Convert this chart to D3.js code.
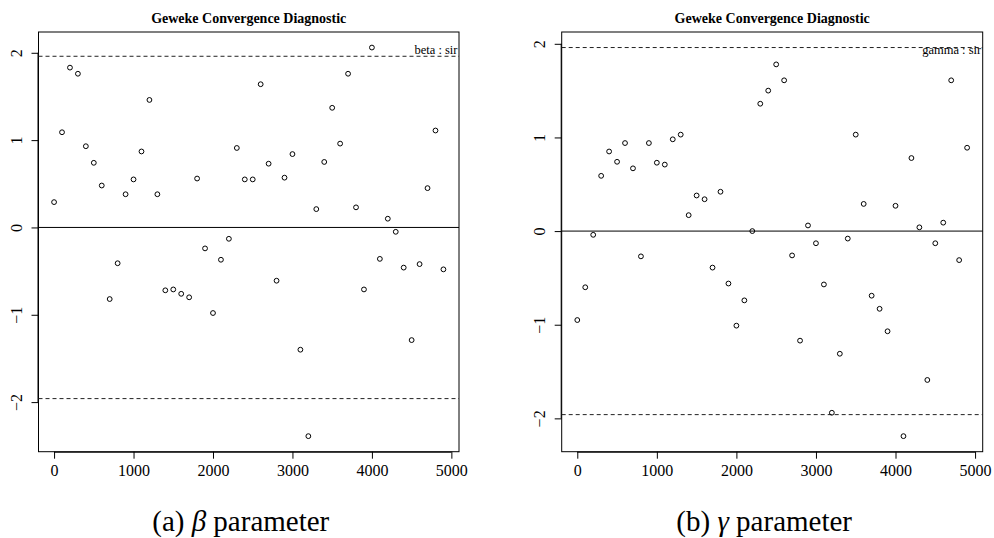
<html>
<head>
<script src="https://cdn.jsdelivr.net/npm/d3@7"></script>
<style>
body { margin:0; padding:0; background:white; }
</style>
</head>
<body>
<div id="chart"></div>
<script>
// iterations (x) shared by both panels
var iters = d3.range(0, 5000, 100);

var betaZ = [0.29, 1.09, 1.83, 1.76, 0.93, 0.74, 0.48, -0.82, -0.41, 0.38,
             0.55, 0.87, 1.46, 0.38, -0.72, -0.71, -0.76, -0.80, 0.56, -0.24,
             -0.98, -0.37, -0.13, 0.91, 0.55, 0.55, 1.64, 0.73, -0.61, 0.57,
             0.84, -1.40, -2.39, 0.21, 0.75, 1.37, 0.96, 1.76, 0.23, -0.71,
             2.06, -0.36, 0.10, -0.05, -0.46, -1.29, -0.42, 0.45, 1.11, -0.48];

var gammaZ = [-0.95, -0.60, -0.04, 0.59, 0.85, 0.74, 0.94, 0.67, -0.27, 0.94,
              0.73, 0.71, 0.98, 1.03, 0.17, 0.38, 0.34, -0.39, 0.42, -0.56,
              -1.01, -0.74, 0.00, 1.36, 1.50, 1.78, 1.61, -0.26, -1.17, 0.06,
              -0.13, -0.57, -1.94, -1.31, -0.08, 1.03, 0.29, -0.69, -0.83, -1.07,
              0.27, -2.19, 0.78, 0.04, -1.59, -0.13, 0.09, 1.61, -0.31, 0.89];

var xTicks = [0, 1000, 2000, 3000, 4000, 5000];
var yTicks = [-2, -1, 0, 1, 2];
var bounds = [-1.96, 1.96];
var titleText = "Geweke Convergence Diagnostic";

var serif = "'Liberation Serif', 'Times New Roman', serif";

var svg = d3.select("#chart").append("svg")
  .attr("width", 994)
  .attr("height", 538)
  .attr("font-family", serif);

function drawPanel(left, right, vals, legendText, caption, greek) {
  var top = 32, bottom = 451.7;
  // R style 4% extension of the data range
  var xr = d3.extent(iters), xe = (xr[1] - xr[0]) * 0.04;
  var yr = d3.extent(vals.concat(bounds)), ye = (yr[1] - yr[0]) * 0.04;

  var x = d3.scaleLinear().domain([xr[0] - xe, xr[1] + xe]).range([left, right]);
  var y = d3.scaleLinear().domain([yr[0] - ye, yr[1] + ye]).range([bottom, top]);

  var g = svg.append("g");

  // x axis
  var xa = g.append("g")
    .attr("transform", "translate(0," + bottom + ")")
    .call(d3.axisBottom(x).tickValues(xTicks).tickSize(7).tickPadding(6)
      .tickFormat(d3.format("d")));
  xa.attr("font-family", null).attr("font-size", null);
  xa.select(".domain").attr("d", "M" + x(0) + ",0.5H" + x(5000));
  xa.selectAll("text").attr("font-size", "16px").attr("fill", "#000");

  // y axis, labels rotated like R (las = 0)
  var ya = g.append("g")
    .attr("transform", "translate(" + left + ",0)")
    .call(d3.axisLeft(y).tickValues(yTicks).tickSize(7)
      .tickFormat(function(d){ return d < 0 ? "\u2212" + (-d) : d; }));
  ya.attr("font-family", null).attr("font-size", null);
  ya.select(".domain").attr("d", "M-0.5," + y(-2) + "V" + y(2));
  ya.selectAll(".tick text")
    .attr("x", null).attr("dy", null)
    .attr("transform", "translate(-16.5,0) rotate(-90)")
    .attr("text-anchor", "middle")
    .attr("font-size", "16px").attr("fill", "#000");

  // box
  g.append("rect")
    .attr("x", left).attr("y", top)
    .attr("width", right - left).attr("height", bottom - top)
    .attr("fill", "none").attr("stroke", "#000").attr("stroke-width", 1);

  // zero line and +-1.96 bounds
  g.append("line")
    .attr("x1", left).attr("x2", right)
    .attr("y1", y(0)).attr("y2", y(0))
    .attr("stroke", "#000").attr("stroke-width", 1);

  g.selectAll("line.bound")
    .data(bounds)
    .enter()
    .append("line")
    .attr("class", "bound")
    .attr("x1", left).attr("x2", right)
    .attr("y1", function(d){ return y(d); })
    .attr("y2", function(d){ return y(d); })
    .attr("stroke", "#222").attr("stroke-width", 1)
    .attr("stroke-dasharray", "4,3");

  // points
  g.selectAll("circle")
    .data(vals)
    .enter()
    .append("circle")
    .attr("cx", function(d, i){ return x(iters[i]); })
    .attr("cy", function(d){ return y(d); })
    .attr("r", 2.4)
    .attr("fill", "none")
    .attr("stroke", "#000")
    .attr("stroke-width", 1);

  // legend text in the top right corner
  g.append("text")
    .attr("x", right - 1.5)
    .attr("y", 54)
    .attr("text-anchor", "end")
    .attr("font-size", "12.5px")
    .text(legendText);

  // title
  g.append("text")
    .attr("x", (left + right) / 2)
    .attr("y", 23)
    .attr("text-anchor", "middle")
    .attr("font-size", "14px")
    .attr("font-weight", "bold")
    .text(titleText);

  // caption
  var cap = g.append("text")
    .attr("x", (left + right) / 2 - 8)
    .attr("y", 531)
    .attr("text-anchor", "middle")
    .attr("font-size", "29px");
  cap.append("tspan").text(caption);
  cap.append("tspan").attr("font-style", "italic").text(greek);
  cap.append("tspan").text(" parameter");
}

drawPanel(38.5, 459, betaZ, "beta : sir", "(a) ", "\u03b2");
drawPanel(561.7, 982.7, gammaZ, "gamma : sir", "(b) ", "\u03b3");
</script>
</body>
</html>
